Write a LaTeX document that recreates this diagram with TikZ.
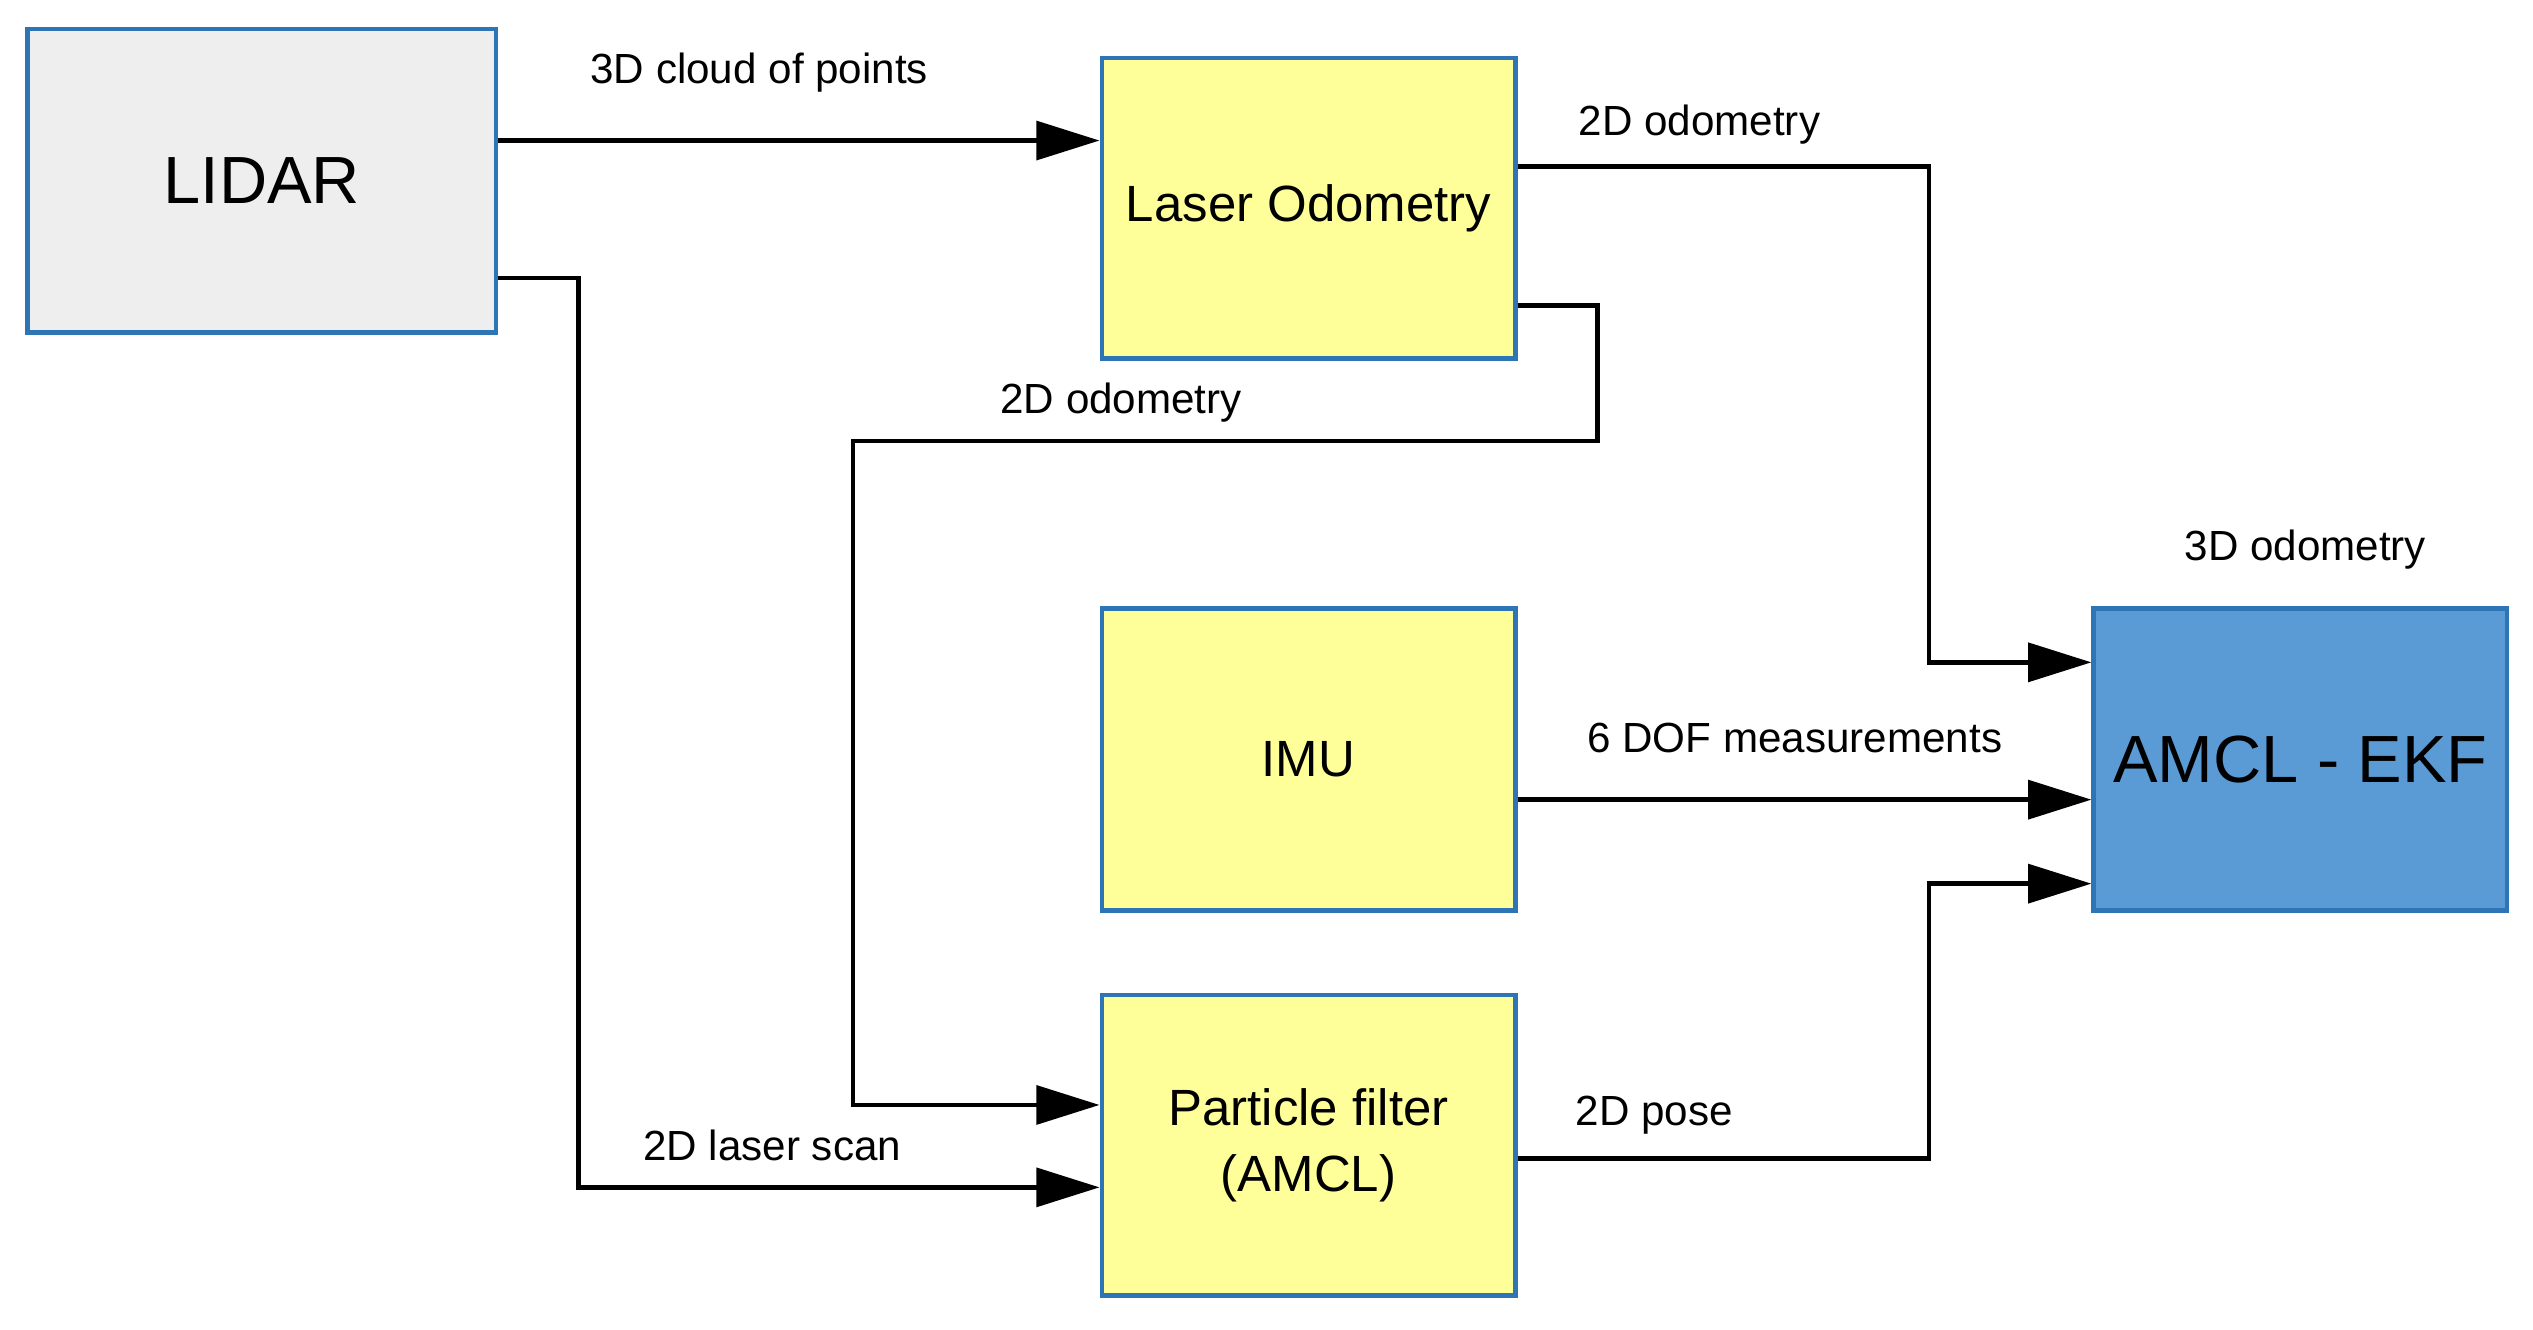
\documentclass[tikz,border=0pt]{standalone}
\usepackage{fontspec}
\setmainfont{Liberation Sans}
\usetikzlibrary{arrows.meta}
\definecolor{bord}{HTML}{2E75B6}
\definecolor{yel}{HTML}{FFFF99}
\definecolor{gr}{HTML}{EEEEEE}
\definecolor{ekf}{HTML}{5B9BD5}
\begin{document}
\begin{tikzpicture}[x=0.016155cm,y=-0.016155cm,
  box/.style={draw=bord,line width=1.3pt,inner sep=0pt,align=center},
  conn/.style={line width=1.3pt,-{Triangle[length=18pt,width=11pt]}},
  lab/.style={font=\fontsize{12}{14}\selectfont}]
\useasboundingbox (0,0) rectangle (1568,823);
\node[box,fill=gr,minimum width=290*0.16155mm,minimum height=188*0.16155mm,font=\fontsize{19}{22}\selectfont] (lidar) at (162,112) {LIDAR};
\node[box,fill=yel,minimum width=256*0.16155mm,minimum height=186*0.16155mm,font=\fontsize{14.5}{17}\selectfont] (lo) at (810,129) {Laser Odometry};
\node[box,fill=yel,minimum width=256*0.16155mm,minimum height=187*0.16155mm,font=\fontsize{14.5}{17}\selectfont] (imu) at (810,470) {IMU};
\node[box,fill=yel,minimum width=256*0.16155mm,minimum height=186*0.16155mm,font=\fontsize{14.5}{19}\selectfont] (pf) at (810,709) {Particle filter\\(AMCL)};
\node[box,fill=ekf,minimum width=256*0.16155mm,minimum height=187*0.16155mm,font=\fontsize{19}{22}\selectfont] (ekf) at (1424,470) {AMCL - EKF};
\draw[conn] (lidar.east |- 0,87) -- (lo.west |- 0,87);
\draw[conn] (lidar.east |- 0,172) -- (358,172) -- (358,735) -- (pf.west |- 0,735);
\draw[conn] (lo.east |- 0,103) -- (1194,103) -- (1194,410) -- (ekf.west |- 0,410);
\draw[conn] (lo.east |- 0,189) -- (989,189) -- (989,273) -- (528,273) -- (528,684) -- (pf.west |- 0,684);
\draw[conn] (imu.east |- 0,495) -- (ekf.west |- 0,495);
\draw[conn] (pf.east |- 0,717) -- (1194,717) -- (1194,547) -- (ekf.west |- 0,547);
\node[lab] (l1) at (470,45) {3D cloud of points};
\node[lab] (l2) at (478,709) {2D laser scan};
\node[lab] (l3) at (1052,77) {2D odometry};
\node[lab] (l4) at (694,249) {2D odometry};
\node[lab] (l5) at (1111,457) {6 DOF measurements};
\node[lab] (l6) at (1024,690) {2D pose};
\node[lab] (l7) at (1427,340) {3D odometry};
\end{tikzpicture}
\end{document}
